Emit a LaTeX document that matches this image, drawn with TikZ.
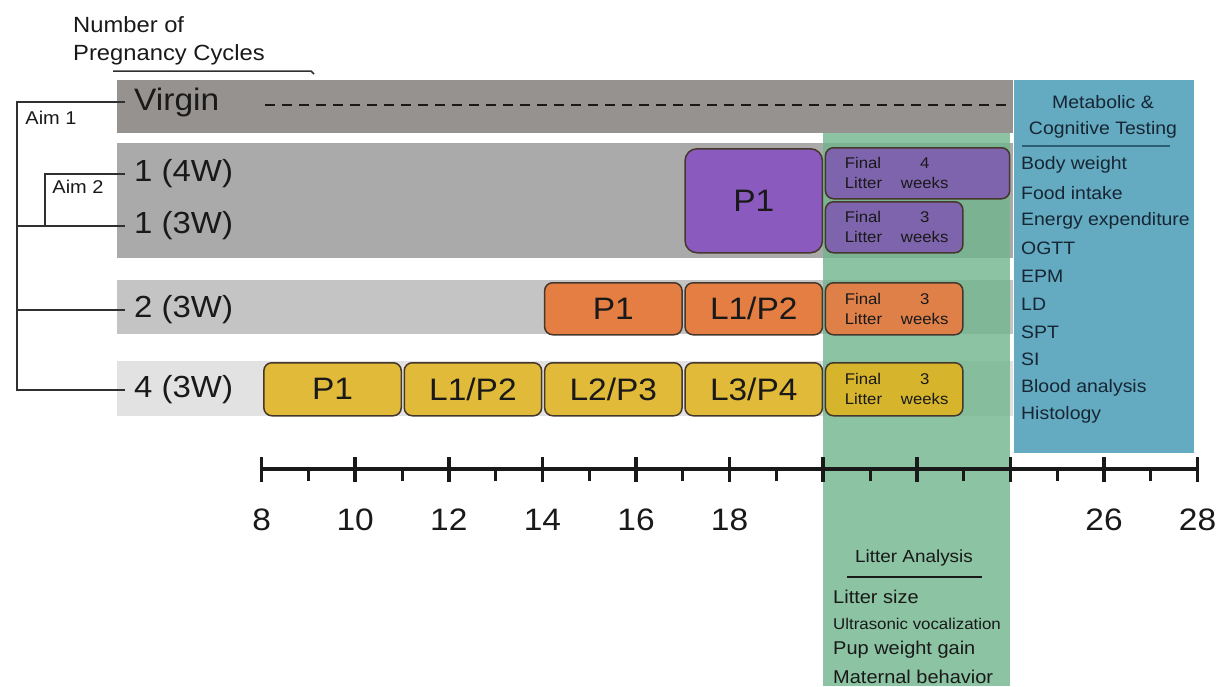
\documentclass[tikz,border=0pt]{standalone}
\usepackage{fontspec}
\setmainfont{Liberation Sans}[FakeStretch=1.08]
\definecolor{virgingray}{RGB}{150,146,143}
\definecolor{rowonegray}{RGB}{170,170,170}
\definecolor{rowtwogray}{RGB}{196,196,196}
\definecolor{rowfourgray}{RGB}{226,226,226}
\definecolor{litgreen}{RGB}{110,180,140}
\definecolor{testblue}{RGB}{100,170,192}
\definecolor{purp}{RGB}{138,90,190}
\definecolor{purpfin}{RGB}{126,100,172}
\definecolor{orng}{RGB}{228,126,66}
\definecolor{orngfin}{RGB}{222,128,72}
\definecolor{yel}{RGB}{224,186,56}
\definecolor{yelfin}{RGB}{214,180,44}
\definecolor{edge}{RGB}{70,55,45}
\definecolor{ink}{RGB}{25,25,25}
\definecolor{navy}{RGB}{22,38,52}
\definecolor{bluerule}{RGB}{45,95,115}
\begin{document}
\begin{tikzpicture}[x=1pt,y=-1pt,
  bar/.style={fill=#1, draw=none},
  phase/.style={draw=edge, line width=1.5pt, rounded corners=8pt, anchor=north west,
    inner sep=0pt, font=\fontsize{31}{32}\selectfont, text=ink},
  fintxt/.style={inner sep=0pt, font=\fontsize{15.5}{20}\selectfont, text=ink},
  rowlab/.style={anchor=west, inner xsep=9pt, inner ysep=0pt, text=ink,
    font=\fontsize{30.5}{32}\selectfont},
  tree/.style={draw=ink!90, line width=1.5pt},
  aim/.style={inner sep=0pt, text=ink, font=\fontsize{18.5}{20}\selectfont},
  testitem/.style={anchor=west, inner sep=0pt, text=navy, font=\fontsize{18}{20}\selectfont},
  lititem/.style={anchor=west, inner sep=0pt, text=ink, font=\fontsize{18.5}{20}\selectfont},
  axislab/.style={inner sep=0pt, text=ink, font=\fontsize{31}{32}\selectfont},
]
\useasboundingbox (0,0) rectangle (1226,686);

% background bands of the four groups
\fill[bar=rowonegray]  (117,143) rectangle (1013,258);
\fill[bar=rowtwogray]  (117,280) rectangle (1013,334);
\fill[bar=rowfourgray] (117,361) rectangle (1013,416);

% litter analysis window (weeks 20-24)
\fill[litgreen, fill opacity=0.8] (823.2,133) rectangle (1010.4,686);

% virgin band
\fill[bar=virgingray] (117,80) rectangle (1013,133);

% metabolic and cognitive testing panel
\fill[testblue] (1014,80) rectangle (1194,453);

% heading
\node[anchor=north west, inner sep=0pt, align=left, text=ink,
  font=\fontsize{22}{28}\selectfont] (heading) at (73,16) {Number of\\Pregnancy Cycles};
\coordinate (hl1) at (113,71);
\coordinate (hl2) at (311,71);
\coordinate (hl3) at (314,74);
\draw[tree] (hl1) -- (hl2) -- (hl3);

% group labels
\node[rowlab, font=\fontsize{31}{32}\selectfont] (lv) at (125,102) {Virgin};
\node[rowlab] (l14) at (125,174) {1 (4W)};
\node[rowlab] (l13) at (125,226) {1 (3W)};
\node[rowlab] (l23) at (125,310) {2 (3W)};
\node[rowlab] (l43) at (125,390) {4 (3W)};

% aim brackets
\draw[tree] (lv.west) -| ([xshift=-108]l43.west) -- (l43.west);
\draw[tree] ([xshift=-108]l23.west) -- (l23.west);
\draw[tree] ([xshift=-108]l13.west) -- ([xshift=-80]l13.west);
\draw[tree] (l14.west) -- ([xshift=-80]l14.west) |- (l13.west);
\node[aim] (aim1) at (51,118) {Aim 1};
\node[aim] (aim2) at (78,187) {Aim 2};

% virgin: no pregnancies
\coordinate (vd1) at (265,105);
\coordinate (vd2) at (1008,105);
\draw[ink, line width=2pt, dash pattern=on 10pt off 7pt] (vd1) -- (vd2);

% one pregnancy
\node[phase, fill=purp, rounded corners=12pt, minimum width=137.4, minimum height=104] (p1a) at (684.3,148) {P1};
\node[phase, fill=purpfin, minimum width=184.2, minimum height=51] (f4) at (824.7,147) {};
\node[fintxt, anchor=west, align=left] (f4a) at ([xshift=20]f4.west) {Final\\Litter};
\node[fintxt, align=center] (f4b) at ([xshift=100]f4.west) {4\\weeks};
\node[phase, fill=purpfin, minimum width=137.4, minimum height=51] (f3) at (824.7,201) {};
\node[fintxt, anchor=west, align=left] (f3a) at ([xshift=20]f3.west) {Final\\Litter};
\node[fintxt, align=center] (f3b) at ([xshift=100]f3.west) {3\\weeks};

% two pregnancies
\node[phase, fill=orng, minimum width=137.4, minimum height=52] (p2a) at (543.9,282) {P1};
\node[phase, fill=orng, minimum width=137.4, minimum height=52] (p2b) at (684.3,282) {L1/P2};
\node[phase, fill=orngfin, minimum width=137.4, minimum height=52] (f2) at (824.7,282) {};
\node[fintxt, anchor=west, align=left] (f2a) at ([xshift=20]f2.west) {Final\\Litter};
\node[fintxt, align=center] (f2b) at ([xshift=100]f2.west) {3\\weeks};

% four pregnancies
\node[phase, fill=yel, minimum width=137.4, minimum height=53] (p4a) at (263.1,362) {P1};
\node[phase, fill=yel, minimum width=137.4, minimum height=53] (p4b) at (403.5,362) {L1/P2};
\node[phase, fill=yel, minimum width=137.4, minimum height=53] (p4c) at (543.9,362) {L2/P3};
\node[phase, fill=yel, minimum width=137.4, minimum height=53] (p4d) at (684.3,362) {L3/P4};
\node[phase, fill=yelfin, minimum width=137.4, minimum height=53] (f1) at (824.7,362) {};
\node[fintxt, anchor=west, align=left] (f1a) at ([xshift=20]f1.west) {Final\\Litter};
\node[fintxt, align=center] (f1b) at ([xshift=100]f1.west) {3\\weeks};

% testing panel text
\node[inner sep=0pt, align=center, text=navy, font=\fontsize{18}{26}\selectfont] (mct) at (1103,117) {Metabolic \&\\Cognitive Testing};
\coordinate (br1) at (1022,146);
\coordinate (br2) at (1170,146);
\draw[bluerule, line width=2pt] (br1) -- (br2);
\foreach \t [count=\i from 0] in {Body weight, Food intake, Energy expenditure, OGTT, EPM, LD, SPT, SI, Blood analysis, Histology}
  \node[testitem] (ti\i) at (1021,{165+27.8*\i}) {\t};

% litter analysis text
\node[inner sep=0pt, text=ink, font=\fontsize{17.5}{20}\selectfont] (lat) at (914,558) {Litter Analysis};
\coordinate (lr1) at (847,577);
\coordinate (lr2) at (982,577);
\draw[ink, line width=1.5pt] (lr1) -- (lr2);
\node[lititem] (li1) at (833,597) {Litter size};
\node[lititem, font=\fontsize{15.6}{20}\selectfont] (li2) at (833,624) {Ultrasonic vocalization};
\node[lititem] (li3) at (833,650) {Pup weight gain};
\node[lititem] (li4) at (833,677) {Maternal behavior};

% time axis in weeks
\coordinate (ax1) at (261.6,469);
\coordinate (ax2) at (1197.6,469);
\draw[ink, line width=3.5pt] (ax1) -- (ax2);
\foreach \w in {8,10,...,28}
  \draw[ink, line width=3.5pt] ({261.6+46.8*(\w-8)},457) -- ({261.6+46.8*(\w-8)},482);
\foreach \w in {9,11,...,27}
  \draw[ink, line width=3pt] ({261.6+46.8*(\w-8)},469) -- ({261.6+46.8*(\w-8)},481);
\foreach \w in {8,10,12,14,16,18,26,28}
  \node[axislab] (wk\w) at ({261.6+46.8*(\w-8)},520) {\w};
\end{tikzpicture}
\end{document}
